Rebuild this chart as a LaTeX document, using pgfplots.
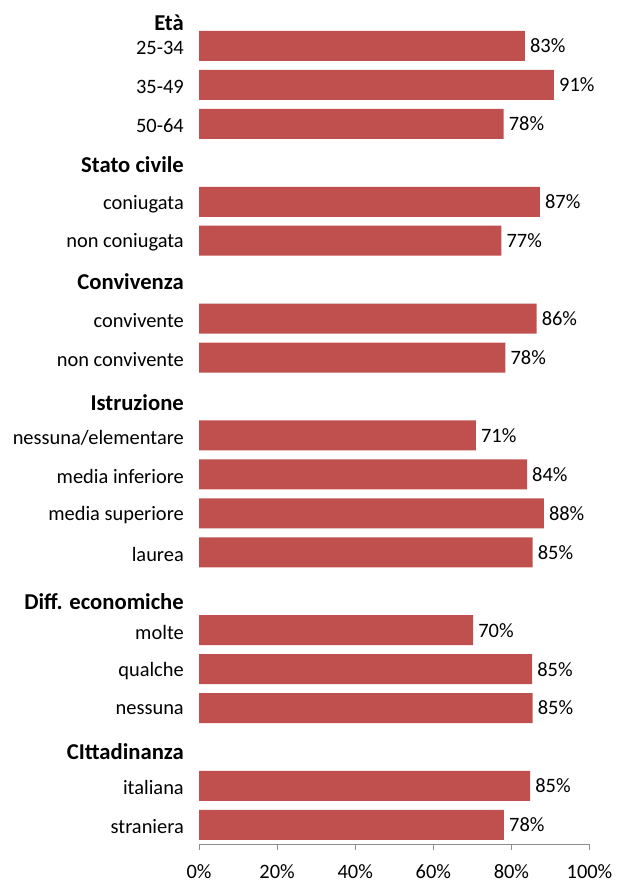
\documentclass[border=0pt]{standalone}
\usepackage{fontspec}
\setmainfont{Carlito}
\usepackage{pgfplots}
\usepackage{pgfplotstable}
\pgfplotsset{compat=1.18}
\definecolor{barred}{HTML}{C0504D}
\definecolor{axgray}{HTML}{8C8C8C}
\newcommand{\chartfont}{\fontsize{20.5}{24.6}\selectfont}
\newcommand{\hdr}[1]{{\fontsize{22.75}{27}\selectfont\bfseries #1}}

\pgfplotstableread{
val  pos  lab
83.45 1  83\%
90.9  2  91\%
78.0  3  78\%
87.3  5  87\%
77.45 6  77\%
86.45 8  86\%
78.45 9  78\%
70.9  11 71\%
84.0  12 84\%
88.3  13 88\%
85.45 14 85\%
70.2  16 70\%
85.3  17 85\%
85.45 18 85\%
84.8  20 85\%
78.1  21 78\%
}\datatable

\begin{document}
\begin{tikzpicture}
\useasboundingbox (0bp,0bp) rectangle (617bp,884bp);
\begin{axis}[
  at={(199bp,40bp)}, anchor=south west,
  scale only axis, width=390.5bp, height=844bp,
  xmin=0, xmax=100,
  y dir=reverse, ymin=-0.18, ymax=21.49,
  xbar, bar width=30bp,
  clip=false,
  axis x line*=bottom, axis y line*=left,
  separate axis lines,
  x axis line style={draw=axgray, line width=0.8bp},
  y axis line style={draw=none},
  xtick={0,20,40,60,80,100},
  xticklabels={0\%,20\%,40\%,60\%,80\%,100\%},
  xtick style={draw=axgray, line width=0.8bp},
  xtick align=outside,
  ytick align=inside,
  major tick length=6bp,
  ytick style={draw=none},
  ytick={0.36,1,2,3,4.0,5,6,6.99,8,9,10.1,11,12,13,14,15.21,16,17,18,19.06,20,21},
  yticklabels={\hdr{Età},25-34,35-49,50-64,\hdr{Stato civile},coniugata,non coniugata,\hdr{Convivenza},convivente,non convivente,\hdr{Istruzione},nessuna/elementare,media inferiore,media superiore,laurea,\hdr{Diff. economiche},molte,qualche,nessuna,\hdr{CIttadinanza},italiana,straniera},
  tick label style={font=\chartfont, text=black},
  yticklabel style={anchor=east, inner sep=0pt, xshift=-15bp, yshift=-2bp},
  xticklabel style={anchor=center, inner sep=0pt, yshift=-22bp},
  nodes near coords,
  point meta=explicit symbolic,
  every node near coord/.append style={font=\chartfont, text=black, anchor=west, inner sep=0pt, xshift=5bp},
]
\addplot[fill=barred, draw=none] table[x=val, y=pos, meta=lab] {\datatable};
\end{axis}
\end{tikzpicture}
\end{document}
